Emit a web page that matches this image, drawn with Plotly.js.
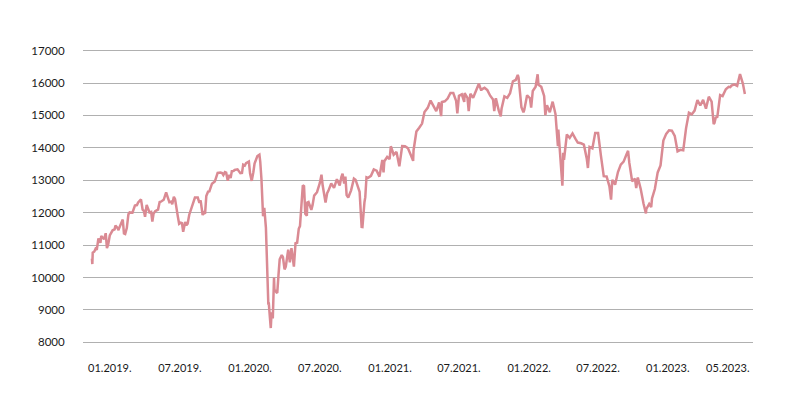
<!DOCTYPE html>
<html>
<head>
<meta charset="utf-8">
<script src="https://cdn.plot.ly/plotly-3.0.1.min.js"></script>
<style>html,body{margin:0;padding:0;background:#fff;}#chart{width:801px;height:414px;}</style>
</head>
<body>
<div id="chart"></div>
<script>
const dates = [
'2019-01-02','2019-01-03','2019-01-04','2019-01-08','2019-01-11','2019-01-14','2019-01-18','2019-01-23','2019-01-25','2019-02-01',
'2019-02-05','2019-02-08','2019-02-11','2019-02-15','2019-02-22','2019-02-27','2019-03-01','2019-03-07','2019-03-08','2019-03-15',
'2019-03-19','2019-03-22','2019-03-25','2019-03-29','2019-04-02','2019-04-05','2019-04-12','2019-04-18','2019-04-23','2019-04-26',
'2019-05-03','2019-05-07','2019-05-10','2019-05-13','2019-05-17','2019-05-24','2019-05-28','2019-05-31','2019-06-03','2019-06-07',
'2019-06-14','2019-06-18','2019-06-21','2019-06-28','2019-07-04','2019-07-09','2019-07-12','2019-07-17','2019-07-19','2019-07-23',
'2019-07-26','2019-08-02','2019-08-05','2019-08-09','2019-08-12','2019-08-15','2019-08-20','2019-08-23','2019-08-26','2019-08-30',
'2019-09-06','2019-09-11','2019-09-13','2019-09-20','2019-09-24','2019-09-27','2019-10-02','2019-10-04','2019-10-08','2019-10-11',
'2019-10-16','2019-10-18','2019-10-22','2019-10-25','2019-11-01','2019-11-08','2019-11-15','2019-11-19','2019-11-22','2019-11-26',
'2019-11-29','2019-12-03','2019-12-06','2019-12-10','2019-12-13','2019-12-17','2019-12-20','2019-12-27',
'2020-01-03','2020-01-07','2020-01-10','2020-01-14','2020-01-17','2020-01-21','2020-01-24','2020-01-27','2020-01-31','2020-02-04',
'2020-02-07','2020-02-14','2020-02-19','2020-02-21','2020-02-24','2020-02-28','2020-03-02','2020-03-06','2020-03-09','2020-03-12',
'2020-03-13','2020-03-16','2020-03-18','2020-03-20','2020-03-23','2020-03-26','2020-03-27','2020-04-01','2020-04-03','2020-04-06',
'2020-04-09','2020-04-14','2020-04-17','2020-04-21','2020-04-24','2020-04-30','2020-05-04','2020-05-08','2020-05-14','2020-05-18',
'2020-05-22','2020-05-26','2020-05-29','2020-06-05','2020-06-08','2020-06-11','2020-06-15','2020-06-16','2020-06-19','2020-06-26',
'2020-06-29','2020-07-03','2020-07-10','2020-07-17','2020-07-21','2020-07-24','2020-07-31','2020-08-04','2020-08-07','2020-08-14',
'2020-08-21','2020-08-28','2020-09-04','2020-09-08','2020-09-11','2020-09-15','2020-09-18','2020-09-21','2020-09-25','2020-10-02',
'2020-10-09','2020-10-13','2020-10-16','2020-10-23','2020-10-28','2020-10-30','2020-11-04','2020-11-06','2020-11-09','2020-11-13',
'2020-11-20','2020-11-27','2020-12-04','2020-12-11','2020-12-18','2020-12-21','2020-12-23','2020-12-30',
'2021-01-05','2021-01-08','2021-01-15','2021-01-22','2021-01-29','2021-02-05','2021-02-12','2021-02-19','2021-02-26','2021-03-04',
'2021-03-05','2021-03-12','2021-03-19','2021-03-26','2021-04-01','2021-04-09','2021-04-16','2021-04-23','2021-04-30','2021-05-07',
'2021-05-12','2021-05-14','2021-05-21','2021-05-28','2021-06-04','2021-06-11','2021-06-18','2021-06-21','2021-06-25','2021-07-02',
'2021-07-08','2021-07-09','2021-07-16','2021-07-19','2021-07-23','2021-07-30','2021-08-06','2021-08-13','2021-08-19','2021-08-20',
'2021-08-27','2021-09-03','2021-09-10','2021-09-17','2021-09-20','2021-09-24','2021-10-01','2021-10-06','2021-10-08','2021-10-15',
'2021-10-22','2021-10-29','2021-11-05','2021-11-12','2021-11-17','2021-11-19','2021-11-26','2021-12-01','2021-12-03','2021-12-10',
'2021-12-17','2021-12-20','2021-12-24','2021-12-31',
'2022-01-05','2022-01-07','2022-01-14','2022-01-21','2022-01-24','2022-01-28','2022-02-04','2022-02-11','2022-02-18','2022-02-24',
'2022-02-25','2022-03-04','2022-03-07','2022-03-08','2022-03-09','2022-03-11','2022-03-18','2022-03-25','2022-04-01','2022-04-08',
'2022-04-14','2022-04-22','2022-04-29','2022-05-06','2022-05-09','2022-05-13','2022-05-20','2022-05-27','2022-06-03','2022-06-10',
'2022-06-17','2022-06-24','2022-07-01','2022-07-05','2022-07-08','2022-07-15','2022-07-22','2022-07-29','2022-08-05','2022-08-12',
'2022-08-16','2022-08-19','2022-08-26','2022-09-02','2022-09-05','2022-09-09','2022-09-16','2022-09-23','2022-09-29','2022-09-30',
'2022-10-07','2022-10-12','2022-10-14','2022-10-21','2022-10-28','2022-11-04','2022-11-11','2022-11-18','2022-11-25','2022-12-02',
'2022-12-09','2022-12-16','2022-12-23','2022-12-30',
'2023-01-06','2023-01-13','2023-01-20','2023-01-27','2023-02-03','2023-02-10','2023-02-17','2023-02-24','2023-03-03','2023-03-10',
'2023-03-15','2023-03-17','2023-03-20','2023-03-24','2023-03-31','2023-04-06','2023-04-14','2023-04-21','2023-04-25','2023-04-28',
'2023-05-05','2023-05-12','2023-05-19','2023-05-26','2023-05-31'
];
const daxValues = [
10580,10416,10767,10803,10887,10856,11205,11071,11281,11180,
11368,10906,11014,11299,11457,11487,11602,11518,11458,11685,
11789,11364,11346,11526,11954,12009,11999,12222,12235,12315,
12412,12093,12060,11876,12238,12011,12027,11726,11971,12045,
12096,12331,12340,12399,12630,12437,12323,12342,12260,12490,
12419,11872,11658,11694,11680,11413,11715,11612,11658,11939,
12192,12359,12469,12468,12307,12381,11925,12013,11970,12512,
12670,12634,12755,12895,12961,13229,13242,13222,13164,13252,
13236,12989,13166,13071,13283,13287,13319,13337,
13219,13227,13483,13456,13526,13556,13577,13205,12982,13250,
13514,13744,13789,13579,13035,11890,12150,11541,10625,9161,
9232,8742,8442,8929,8741,10000,9633,9544,9525,10075,
10565,10696,10626,10250,10336,10862,10467,10904,10337,11058,
11074,11504,11587,12848,12820,11970,11911,12315,12331,12089,
12232,12528,12633,12920,13171,12838,12313,12600,12674,12901,
12765,13033,12842,13100,13202,12900,13116,12542,12469,12689,
13051,13018,12909,12646,11560,11556,12324,12480,13096,13077,
13137,13335,13298,13114,13630,13246,13587,13719,
13651,14050,13788,13873,13433,14056,14050,13993,13786,13600,
13920,14502,14621,14749,15107,15234,15460,15280,15136,15400,
14978,15417,15437,15520,15693,15693,15448,15062,15607,15650,
15420,15688,15540,15133,15669,15544,15761,15977,15765,15808,
15852,15781,15609,15490,15132,15531,15156,14973,15206,15587,
15543,15688,16054,16094,16251,16160,15257,15100,15169,15623,
15531,15240,15756,15885,
16271,15948,15883,15603,15011,15318,15100,15425,15042,14052,
14567,13094,12831,13200,13848,13628,14413,14306,14446,14284,
14164,14142,14098,13674,13380,14027,13982,14462,14460,13762,
13127,13118,12813,12402,13015,12864,13254,13484,13574,13795,
13910,13544,12971,13050,12761,13088,12741,12284,11976,12114,
12273,12172,12438,12731,13243,13460,14224,14432,14541,14529,
14370,13893,13940,13924,
14610,15086,15033,15150,15476,15307,15482,15210,15578,15428,
14735,14768,14933,14957,15629,15598,15808,15882,15872,15922,
15961,15914,16275,15984,15664
];
const yTickVals = [8000,9000,10000,11000,12000,13000,14000,15000,16000,17000];
const xTickVals = ['2019-02-15','2019-08-07','2020-01-27','2020-07-17','2021-01-06','2021-06-25','2021-12-15','2022-06-03','2022-11-22','2023-04-19'];
const xTickText = ['01.2019.','07.2019.','01.2020.','07.2020.','01.2021.','07.2021.','01.2022.','07.2022.','01.2023.','05.2023.'];

const trace = {
  x: dates, y: daxValues, type: 'scatter', mode: 'lines',
  line: {color: '#da8a93', width: 2.5},
  hoverinfo: 'x+y'
};
const layout = {
  width: 801, height: 414,
  margin: {l: 83, r: 48, t: 49, b: 70},
  paper_bgcolor: '#fff', plot_bgcolor: '#fff',
  showlegend: false,
  font: {family: 'Lato, sans-serif', size: 11, color: '#1a1a1a'},
  xaxis: {
    type: 'date', range: ['2018-12-11','2023-06-20'],
    tickvals: xTickVals, ticktext: xTickText,
    showgrid: false, zeroline: false, showline: false,
    ticks: 'outside', ticklen: 14, tickcolor: 'rgba(0,0,0,0)',
    tickfont: {family: 'Lato, sans-serif', size: 11, color: '#1a1a1a'}
  },
  yaxis: {
    range: [7950, 17050],
    tickvals: yTickVals, ticktext: yTickVals.map(String),
    showgrid: true, gridcolor: '#b0b0b0', gridwidth: 1,
    zeroline: false, showline: false,
    ticks: 'outside', ticklen: 15, tickcolor: 'rgba(0,0,0,0)',
    tickfont: {family: 'Lato, sans-serif', size: 11.5, color: '#1a1a1a'}
  }
};
Plotly.newPlot('chart', [trace], layout, {displayModeBar: false, staticPlot: true});
</script>
</body>
</html>
